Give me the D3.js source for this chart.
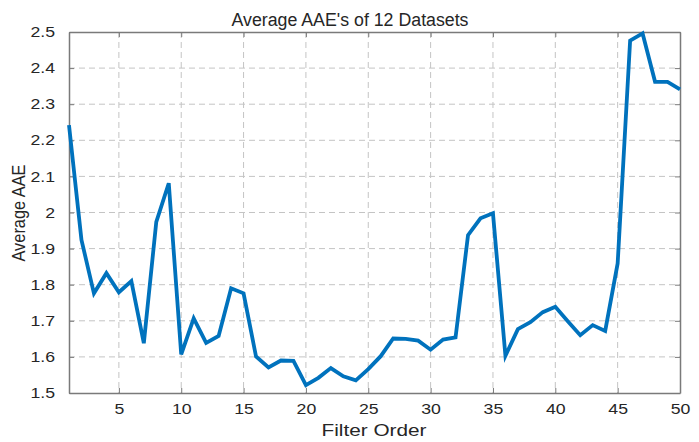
<!DOCTYPE html>
<html>
<head>
<meta charset="utf-8">
<script src="https://cdn.jsdelivr.net/npm/d3@7"></script>
<style>
  body { margin: 0; background: #fff; overflow: hidden; }
  text { font-family: "Liberation Sans", Arial, sans-serif; fill: #262626; }
</style>
</head>
<body>
<script>
// filter orders 1..50 and the averaged AAE
const filterOrder = d3.range(1, 51);
const averageAAE = [
  2.242, 1.924, 1.776, 1.832, 1.779, 1.810, 1.638, 1.974, 2.081, 1.607,
  1.707, 1.639, 1.658, 1.790, 1.776, 1.601, 1.571, 1.590, 1.589, 1.522,
  1.542, 1.569, 1.546, 1.535, 1.566, 1.602, 1.651, 1.650, 1.645, 1.620,
  1.648, 1.654, 1.937, 1.984, 1.998, 1.603, 1.677, 1.696, 1.724, 1.739,
  1.699, 1.660, 1.688, 1.672, 1.859, 2.476, 2.496, 2.362, 2.362, 2.341
];
const xTicks = [5, 10, 15, 20, 25, 30, 35, 40, 45, 50];
const yTicks = [1.5, 1.6, 1.7, 1.8, 1.9, 2, 2.1, 2.2, 2.3, 2.4, 2.5];

const width = 699, height = 442;
const margin = {top: 32, right: 19, bottom: 49, left: 69};
const innerW = width - margin.left - margin.right;
const innerH = height - margin.top - margin.bottom;

// the source picture is a bit stretched sideways, so widen horizontal text
const stretch = 1.22;

const svg = d3.select("body").append("svg")
    .attr("width", width)
    .attr("height", height);

const g = svg.append("g")
    .attr("transform", `translate(${margin.left},${margin.top})`);

const x = d3.scaleLinear().domain([1, 50]).range([0, innerW]);
const y = d3.scaleLinear().domain([1.5, 2.5]).range([innerH, 0]);

// grid
g.append("g")
    .selectAll("line")
    .data(xTicks.filter(d => d < 50))
    .join("line")
    .attr("x1", d => x(d)).attr("x2", d => x(d))
    .attr("y1", 0).attr("y2", innerH)
    .attr("stroke", "#c4c4c4")
    .attr("stroke-dasharray", "6,4");

g.append("g")
    .selectAll("line")
    .data(yTicks.filter(d => d > 1.5 && d < 2.5))
    .join("line")
    .attr("x1", 0).attr("x2", innerW)
    .attr("y1", d => y(d)).attr("y2", d => y(d))
    .attr("stroke", "#c4c4c4")
    .attr("stroke-dasharray", "6,4");

// axes, ticks pointing inward like MATLAB
g.append("g")
    .attr("transform", `translate(0,${innerH})`)
    .call(d3.axisBottom(x).tickValues(xTicks).tickSizeInner(-5).tickSizeOuter(0).tickPadding(11));
g.append("g")
    .call(d3.axisLeft(y).tickValues(yTicks).tickSizeInner(-5).tickSizeOuter(0).tickPadding(14)
        .tickFormat(d => d3.format("")(d)));
g.append("g")
    .call(d3.axisTop(x).tickValues(xTicks).tickSizeInner(-5).tickSizeOuter(0).tickFormat(""));
g.append("g")
    .attr("transform", `translate(${innerW},0)`)
    .call(d3.axisRight(y).tickValues(yTicks).tickSizeInner(-5).tickSizeOuter(0).tickFormat(""));

g.selectAll(".domain").attr("stroke", "#7a7a7a").attr("stroke-width", 1.5);
g.selectAll(".tick line").attr("stroke", "#7a7a7a");
g.selectAll(".tick text")
    .style("font-size", "14.5px")
    .style("font-family", '"Liberation Sans", Arial, sans-serif')
    .attr("fill", "#262626")
    .each(function () {
        const len = this.getComputedTextLength();
        d3.select(this)
            .attr("textLength", len * stretch)
            .attr("lengthAdjust", "spacingAndGlyphs");
    });

// data line
const line = d3.line()
    .x((d, i) => x(filterOrder[i]))
    .y(d => y(d));

g.append("path")
    .datum(averageAAE)
    .attr("fill", "none")
    .attr("stroke", "#0072BD")
    .attr("stroke-width", 3.8)
    .attr("stroke-linejoin", "miter")
    .attr("d", line);

// labels
svg.append("text")
    .attr("x", 350)
    .attr("y", 26)
    .attr("text-anchor", "middle")
    .attr("textLength", 237)
    .attr("lengthAdjust", "spacingAndGlyphs")
    .style("font-size", "18px")
    .text("Average AAE's of 12 Datasets");

svg.append("text")
    .attr("x", 374)
    .attr("y", 436)
    .attr("text-anchor", "middle")
    .attr("textLength", 105)
    .attr("lengthAdjust", "spacingAndGlyphs")
    .style("font-size", "16.5px")
    .text("Filter Order");

svg.append("text")
    .attr("transform", `translate(25,213) rotate(-90)`)
    .attr("text-anchor", "middle")
    .attr("textLength", 97)
    .attr("lengthAdjust", "spacingAndGlyphs")
    .style("font-size", "19px")
    .text("Average AAE");
</script>
</body>
</html>
